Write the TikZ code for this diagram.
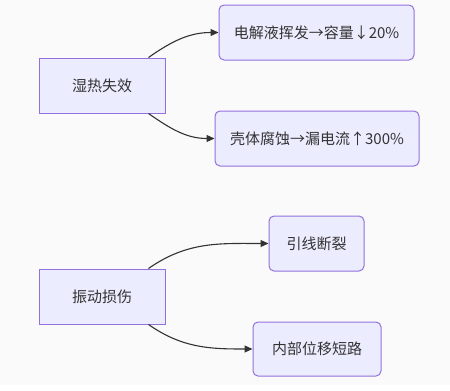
\documentclass[tikz,border=0pt]{standalone}
\usepackage{fontspec}
\setmainfont{Noto Sans CJK SC}
\usepackage{tikz}
\usetikzlibrary{arrows.meta}

\definecolor{nodefill}{HTML}{ECECFF}
\definecolor{nodeline}{HTML}{9370DB}
\definecolor{inkgray}{HTML}{333333}
\definecolor{canvas}{HTML}{FAFAFA}

\begin{document}
\begin{tikzpicture}[
  x=1pt,y=-1pt,
  >={Triangle[length=8pt,width=7pt]},
  cause/.style={draw=nodeline,fill=nodefill,line width=1pt,text=inkgray,minimum height=55pt,inner sep=0pt,font=\fontsize{15}{18}\selectfont},
  effect/.style={cause,rounded corners=5pt},
  link/.style={->,draw=inkgray,line width=1.1pt}
]
\useasboundingbox (0,0) rectangle (450,391);
\fill[canvas] (0,0) rectangle (450,385);
\node[cause,minimum width=126pt] (shire) at (102,85.5) {湿热失效};
\node[effect,minimum width=195pt] (dianjie) at (316.5,32.5) {电解液挥发→容量↓20\%};
\node[effect,minimum width=204pt] (keti) at (317,138.5) {壳体腐蚀→漏电流↑300\%};
\node[cause,minimum width=126pt] (zhendong) at (102,296.5) {振动损伤};
\node[effect,minimum width=95pt] (yinxian) at (316.5,243.5) {引线断裂};
\node[effect,minimum width=128pt,minimum height=54pt] (neibu) at (317,349) {内部位移短路};
\foreach \src/\dst/\side/\ang in {shire/dianjie/north/35,shire/keti/south/-35,zhendong/yinxian/north/35,zhendong/neibu/south/-35}
  \draw[link] ([xshift=-17pt]\src.\side\space east) to[out=\ang,in=180] (\dst.west);
\end{tikzpicture}
\end{document}
